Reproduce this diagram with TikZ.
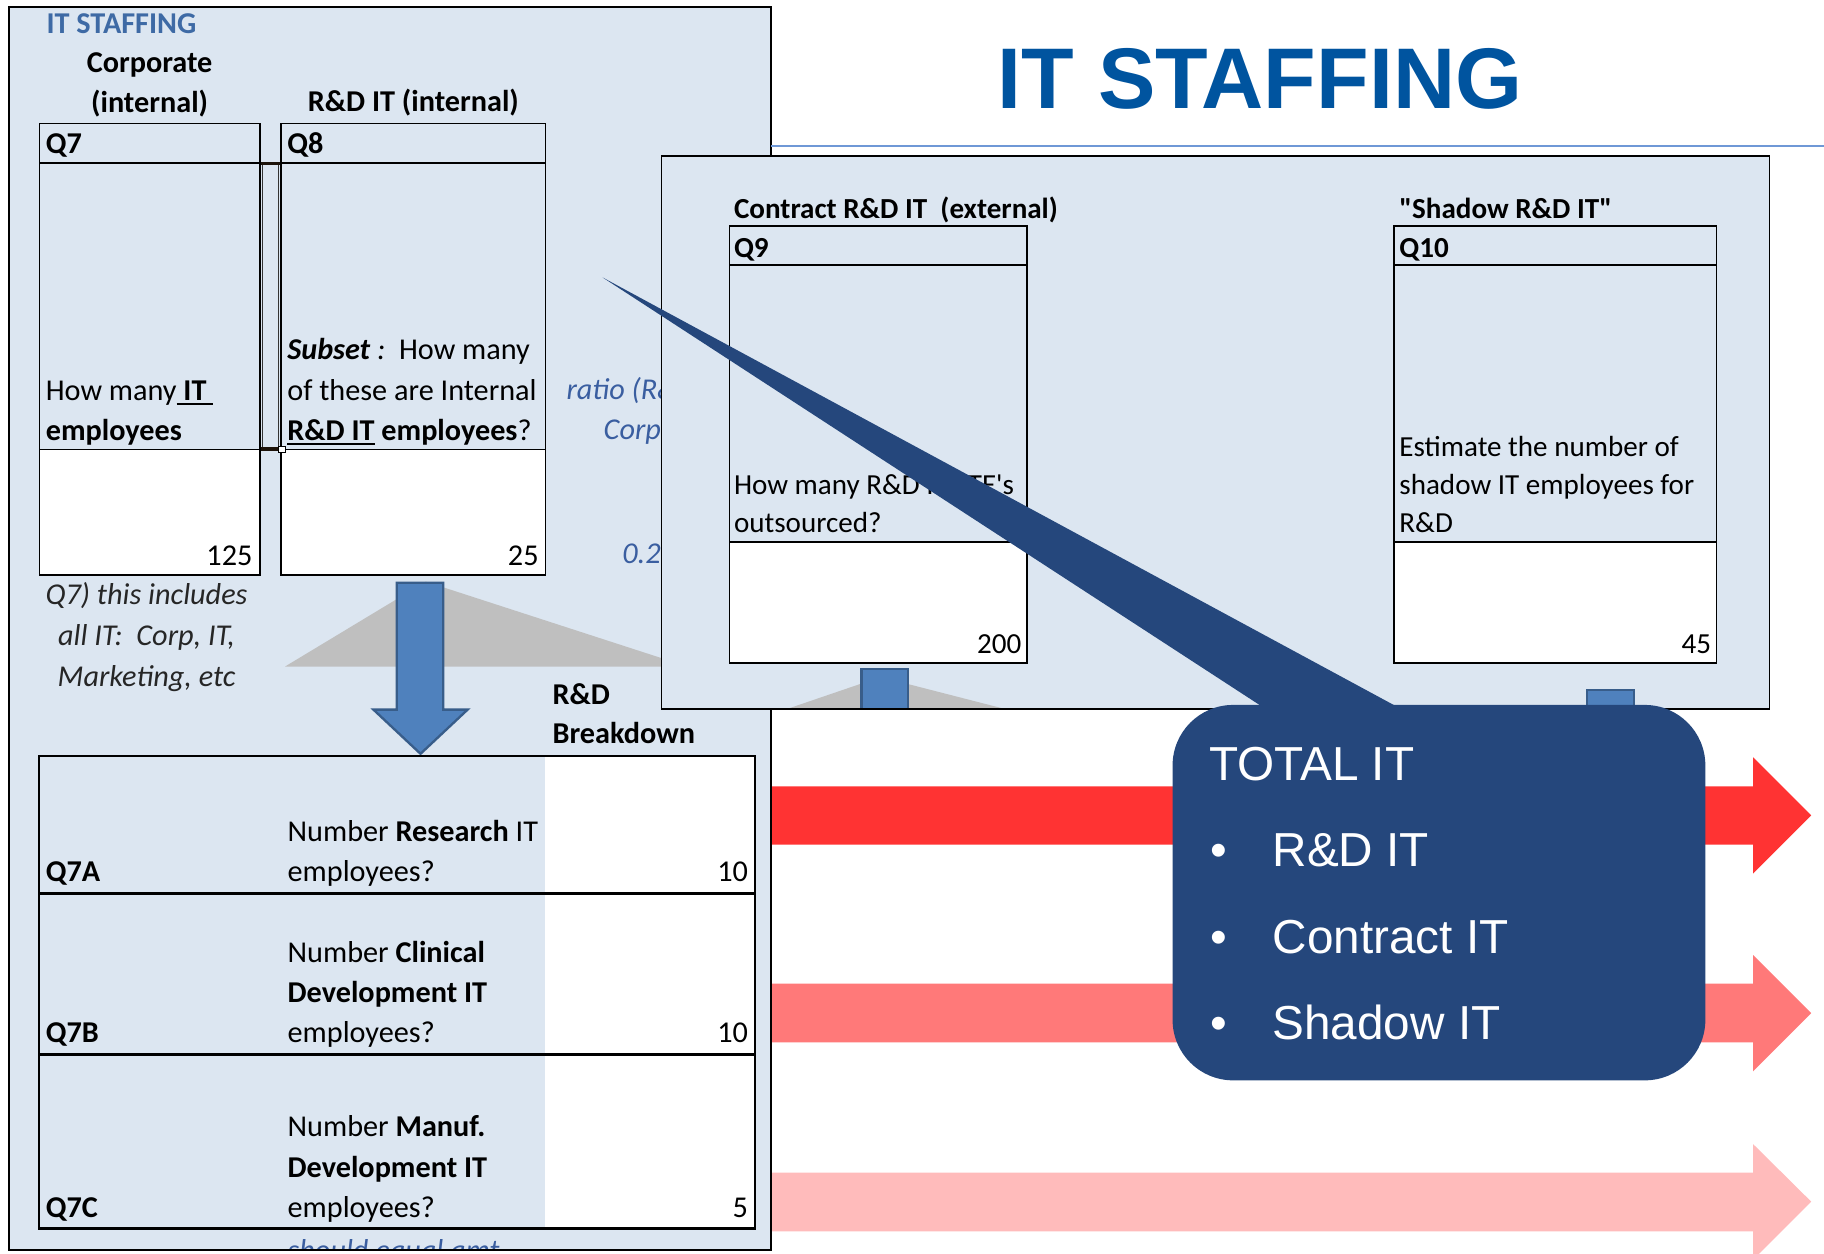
\documentclass[tikz,border=0pt]{standalone}
\usepackage{fontspec}
\setmainfont{Carlito}[Ligatures=TeXOff]
\newfontfamily\arialf{Liberation Sans}
\definecolor{panel}{RGB}{220,230,241}
\definecolor{qblue}{RGB}{79,129,189}
\definecolor{qbluedk}{RGB}{56,93,138}
\definecolor{gtri}{RGB}{191,191,191}
\definecolor{redA}{RGB}{255,51,51}
\definecolor{redB}{RGB}{255,121,121}
\definecolor{redC}{RGB}{255,187,187}
\definecolor{callout}{RGB}{37,71,124}
\definecolor{titleblue}{RGB}{0,84,159}
\definecolor{smallblue}{RGB}{62,106,165}
\definecolor{ruleblue}{RGB}{111,152,214}
\definecolor{noteblue}{RGB}{58,94,160}
\definecolor{notegray}{RGB}{38,38,38}
\newcommand{\cfs}{\fontsize{26}{34.6}\selectfont}
\newcommand{\cfr}{\fontsize{25}{33}\selectfont}
\newcommand{\thickul}[1]{\setbox0\hbox{#1}\leavevmode\rlap{\rule[-4.2pt]{\wd0}{2pt}}\box0}
\begin{document}
\begin{tikzpicture}[x=1pt,y=-1pt,
  txt/.style={inner sep=0pt, outer sep=0pt, anchor=base west, align=left, font=\cfs},
  rtxt/.style={txt, font=\cfr},
  btxt/.style={txt, font=\cfs\bfseries},
  rbtxt/.style={txt, font=\cfr\bfseries},
  itxt/.style={txt, font=\cfs\itshape},
  ctxt/.style={inner sep=0pt, outer sep=0pt, anchor=base, align=center, font=\cfs\bfseries},
  num/.style={inner sep=0pt, outer sep=0pt, anchor=base east, font=\cfs},
  rnum/.style={num, font=\cfr},
  qline/.style={draw=black, line width=1.3pt},
  blockarrow/.style={fill=qblue, draw=qbluedk, line width=2pt, line join=miter},
  bignote/.style={inner sep=0pt, outer sep=0pt, font=\arialf\fontsize{41}{48}\selectfont, text=white}
]
\useasboundingbox (0,0) rectangle (1568,1078);
\fill[white] (0,0) rectangle (1568,1078);

% red arrows (behind everything)
\fill[redA] (640,676) -- (1507,676) -- (1507,651) -- (1557,701) -- (1507,751) -- (1507,726) -- (640,726) -- cycle;
\fill[redB] (640,845.5) -- (1507,845.5) -- (1507,821) -- (1557,871) -- (1507,921) -- (1507,896) -- (640,896) -- cycle;
\fill[redC] (640,1008) -- (1507,1008) -- (1507,983.5) -- (1557,1033) -- (1507,1083) -- (1507,1058.5) -- (640,1058.5) -- cycle;

% ---------------- left panel ----------------
\fill[panel] (7.7,6) rectangle (663,1074.5);
\begin{scope}
\clip (7.7,6) rectangle (663,1074.5);
\node[btxt, text=smallblue] (smalltitle) at (40,28.7) {IT STAFFING};
\node[ctxt] (corp) at (128.6,96.5) {Corporate\\(internal)};
\node[ctxt] (rdint) at (355.3,96) {R\&D IT (internal)};

% Q7 box
\fill[white] (34,386.6) rectangle (223.3,494.5);
\draw[qline] (34,106) rectangle (223.3,494.5);
\draw[qline] (34,140) -- (223.3,140);
\draw[qline] (34,386.6) -- (223.3,386.6);
% Q8 box
\fill[white] (241.7,386.6) rectangle (469,494.5);
\draw[qline] (241.7,106) rectangle (469,494.5);
\draw[qline] (241.7,140) -- (469,140);
\draw[qline] (241.7,386.6) -- (469,386.6);
% selection bracket between Q7 and Q8
\draw[black!80, line width=0.8pt] (225.3,140) rectangle (239.7,386.6);
\draw[black!85!brown, line width=3pt] (224,140.5) -- (241,140.5);
\draw[black!85!brown, line width=3pt] (224,386) -- (241,386);
\draw[fill=white, draw=black, line width=0.8pt] (239.7,383.6) rectangle (245,389);

\node[btxt] (q7lab) at (39.4,131.6) {Q7};
\node[txt] (q7q) at (39.4,378.5) {How many\thickul{ \textbf{IT} }\\\textbf{employees}};
\node[num] (q7n) at (217,486) {125};
\node[btxt] (q8lab) at (247,131.6) {Q8};
\node[txt] (q8q) at (247,378.5) {\textbf{\textit{Subset}}\textit{ :}\ \ How many\\of these are Internal\\\thickul{\textbf{R\&D IT}}\textbf{ employees}?};
\node[num] (q8n) at (463,486) {25};

\node[itxt, text=noteblue] (ratio1) at (487,343) {ratio (R\&D};
\node[itxt, text=noteblue] (ratio2) at (519,378) {Corp};
\node[itxt, text=noteblue] (ratio3) at (535,484) {0.2};

\node[inner sep=0pt, anchor=base, align=center, font=\fontsize{26}{35.2}\selectfont\itshape, text=notegray] (q7note) at (126,590) {Q7) this includes\\all IT:\ \ Corp, IT,\\Marketing, etc};

% gray triangle and down arrow
\fill[gtri] (245,573) -- (366,500) -- (591,573) -- cycle;
\draw[blockarrow] (341,501) -- (381,501) -- (381,610) -- (402,610) -- (361.5,648) -- (321,610) -- (341,610) -- cycle;

\node[txt, font=\fontsize{26}{33.6}\selectfont\bfseries] (rdbreak) at (475,639.5) {R\&D\\Breakdown};

% breakdown table
\fill[white] (468.4,650) rectangle (649,1056.3);
\draw[line width=2.3pt] (33.4,650) rectangle (649,1056.3);
\draw[line width=2.3pt] (33.4,768) -- (649,768);
\draw[line width=2.3pt] (33.4,906.7) -- (649,906.7);

\node[btxt] (q7a) at (39.4,757.6) {Q7A};
\node[txt] (q7aq) at (247.3,757.6) {Number \textbf{Research} IT\\employees?};
\node[num] (q7an) at (643,757.6) {10};
\node[btxt] (q7b) at (39.4,896.4) {Q7B};
\node[txt] (q7bq) at (247.3,896.4) {Number \textbf{Clinical}\\\textbf{Development IT}\\employees?};
\node[num] (q7bn) at (643,896.4) {10};
\node[btxt] (q7c) at (39.4,1046.6) {Q7C};
\node[txt] (q7cq) at (247.3,1046.6) {Number \textbf{Manuf.}\\\textbf{Development IT}\\employees?};
\node[num] (q7cn) at (643,1046.6) {5};
\node[itxt, text=noteblue] (shouldeq) at (247.3,1084) {should equal amt};
\end{scope}
\draw[line width=1.3pt] (7.7,6) rectangle (663,1074.5);

% ---------------- title ----------------
\node[inner sep=0pt, anchor=base, font=\arialf\bfseries\fontsize{74}{80}\selectfont, text=titleblue] (title) at (1083,93.6) {IT STAFFING};
\draw[ruleblue, line width=1.8pt] (663,125.5) -- (1568,125.5);

% ---------------- right panel ----------------
\fill[panel] (568.5,134) rectangle (1521,609.5);
\begin{scope}
\clip (568.5,134) rectangle (1521,609.5);
\node[rbtxt] (contract) at (631,187.5) {Contract R\&D IT\ \ (external)};
\fill[white] (627,466) rectangle (883,570);
\draw[qline] (627,194.5) rectangle (883,570);
\draw[qline] (627,228) -- (883,228);
\draw[qline] (627,466) -- (883,466);
\node[rbtxt] (q9lab) at (631,221) {Q9};
\node[rtxt] (q9q) at (631,458) {How many R\&D IT FTE's\\outsourced?};
\node[rnum] (q9n) at (878,562) {200};

\node[rbtxt] (shadow) at (1203,187.5) {"Shadow R\&D IT"};
\fill[white] (1198.5,466) rectangle (1475.5,570);
\draw[qline] (1198.5,194.5) rectangle (1475.5,570);
\draw[qline] (1198.5,228) -- (1475.5,228);
\draw[qline] (1198.5,466) -- (1475.5,466);
\node[rbtxt] (q10lab) at (1203,221) {Q10};
\node[rtxt] (q10q) at (1203,458) {Estimate the number of\\shadow IT employees for\\R\&D};
\node[rnum] (q10n) at (1471,562) {45};

\fill[gtri] (675,610) -- (757,582) -- (866,610) -- cycle;
\draw[blockarrow] (740.5,575) rectangle (780.5,614);
\draw[blockarrow] (1364.5,593) rectangle (1404.5,614);
\end{scope}
\draw[line width=1.3pt] (568.5,134) rectangle (1521,609.5);

% ---------------- callout ----------------
\fill[callout] (518,238.5) -- (1135,640) -- (1261,640) -- cycle;
\fill[callout, rounded corners=52pt] (1008,606) rectangle (1466,928.7);
\node[bignote, anchor=base west] (totalit) at (1039.6,671) {TOTAL IT};
\node[bignote, anchor=base] (b1) at (1047.5,745) {•};
\node[bignote, anchor=base west] (rdit) at (1094,745) {R\&D IT};
\node[bignote, anchor=base] (b2) at (1047.5,820) {•};
\node[bignote, anchor=base west] (contractit) at (1094,820) {Contract IT};
\node[bignote, anchor=base] (b3) at (1047.5,893.7) {•};
\node[bignote, anchor=base west] (shadowit) at (1094,893.7) {Shadow IT};
\end{tikzpicture}
\end{document}
